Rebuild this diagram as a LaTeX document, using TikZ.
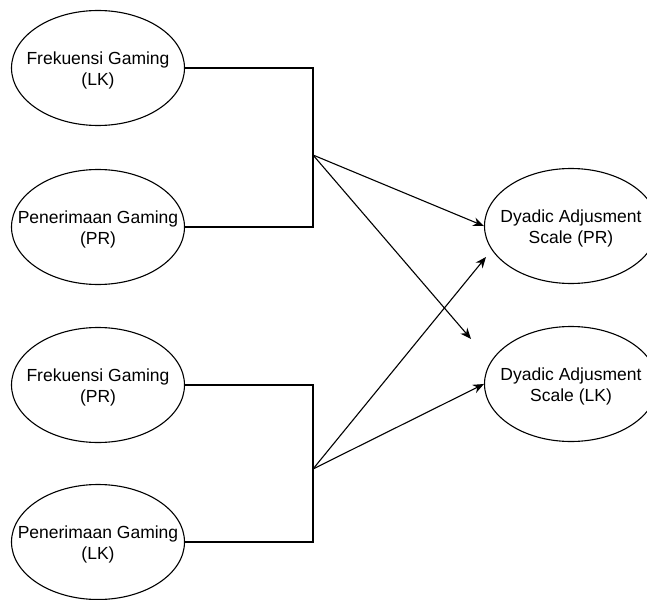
\documentclass[tikz,border=0pt]{standalone}
\usepackage{fontspec}
\setmainfont{Liberation Sans}
\usetikzlibrary{shapes.geometric,arrows.meta}
\tikzset{
  ell/.style={draw, ellipse, line width=1.1pt, minimum width=173pt, minimum height=115pt, inner sep=0pt},
  txt/.style={align=center, inner sep=0pt, font=\fontsize{17.5}{21}\selectfont},
  wire/.style={line width=1.1pt},
  arr/.style={line width=1.1pt, -{Stealth[length=11pt,width=9pt]}}
}
\begin{document}
\begin{tikzpicture}[x=1pt,y=-1pt]
\useasboundingbox (0,0) rectangle (647,599);
\node[ell] (f1) at (98,68) {};
\node[txt] at ([yshift=-2pt]f1.center) {Frekuensi Gaming\\(LK)};
\node[ell] (p1) at (98,227) {};
\node[txt] at ([yshift=-2pt]p1.center) {Penerimaan Gaming\\(PR)};
\node[ell] (f2) at (98,385) {};
\node[txt] at ([yshift=-2pt]f2.center) {Frekuensi Gaming\\(PR)};
\node[ell] (p2) at (98,542) {};
\node[txt] at ([yshift=-2pt]p2.center) {Penerimaan Gaming\\(LK)};
\node[ell] (d1) at (571,226) {};
\node[txt] at ([yshift=-2pt]d1.center) {Dyadic Adjusment\\Scale (PR)};
\node[ell] (d2) at (571,384) {};
\node[txt] at ([yshift=-2pt]d2.center) {Dyadic Adjusment\\Scale (LK)};
\coordinate (j1) at (313,155);
\coordinate (j2) at (313,469);
\coordinate (t1) at (471,339);
\coordinate (t2) at (486,257);
\draw[wire] (f1.east) -| (j1);
\draw[wire] (p1.east) -| (j1);
\draw[wire] (f2.east) -| (j2);
\draw[wire] (p2.east) -| (j2);
\draw[arr] (j1) -- (d1.west);
\draw[arr] (j1) -- (t1);
\draw[arr] (j2) -- (t2);
\draw[arr] (j2) -- (d2.west);
\end{tikzpicture}
\end{document}
